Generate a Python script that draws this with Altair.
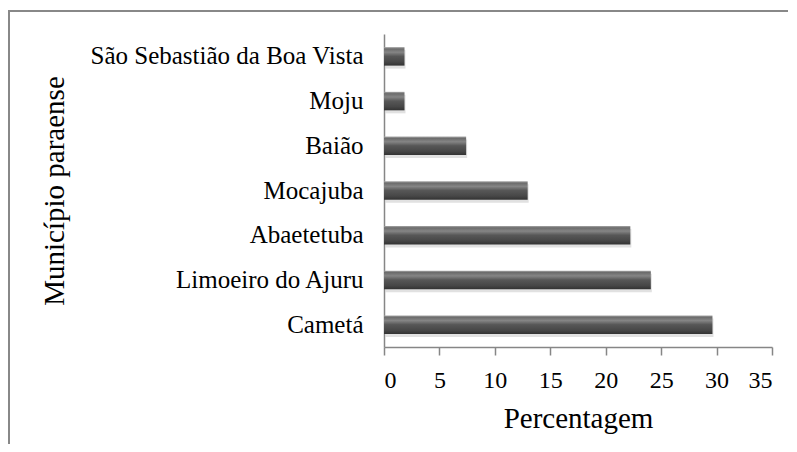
import altair as alt
import pandas as pd

municipios = ["São Sebastião da Boa Vista", "Moju", "Baião", "Mocajuba",
              "Abaetetuba", "Limoeiro do Ajuru", "Cametá"]
percentagens = [1.85, 1.85, 7.41, 12.96, 22.22, 24.07, 29.63]

df = pd.DataFrame({"Município": municipios, "Percentagem": percentagens})

FONT = "Liberation Serif"
AXIS_GRAY = "#868686"

y_enc = alt.Y("Município:N", sort=municipios,
              scale=alt.Scale(paddingInner=0.586, paddingOuter=0.293),
              axis=alt.Axis(title="Município  paraense", ticks=False,
                            domainColor=AXIS_GRAY, domainWidth=1.5,
                            labelFont=FONT, labelFontSize=25, labelColor="#000",
                            labelPadding=21, labelLimit=400,
                            titleFont=FONT, titleFontSize=29, titleFontWeight="normal",
                            titleColor="#000", titleAngle=270, titleX=-321, titleY=156.5,
                            titleAlign="center", titleBaseline="alphabetic"))

x_enc = alt.X("Percentagem:Q",
              scale=alt.Scale(domain=[0, 35], nice=False),
              axis=alt.Axis(title="Percentagem", values=[0, 5, 10, 15, 20, 25, 30, 35],
                            grid=False, tickSize=8, tickColor=AXIS_GRAY, tickWidth=1.5,
                            domainColor=AXIS_GRAY, domainWidth=1.5,
                            labelFont=FONT, labelFontSize=24, labelColor="#000",
                            labelPadding=13,
                            titleFont=FONT, titleFontSize=29, titleFontWeight="normal",
                            titleColor="#000", titleX=194, titleY=80,
                            titleAlign="center", titleBaseline="alphabetic"))

gradient = alt.LinearGradient(
    gradient="linear", x1=0, x2=0, y1=0, y2=1,
    stops=[
        alt.GradientStop(offset=0.0, color="#a8a8a8"),
        alt.GradientStop(offset=0.1, color="#6c6c6c"),
        alt.GradientStop(offset=0.28, color="#858585"),
        alt.GradientStop(offset=0.5, color="#575757"),
        alt.GradientStop(offset=0.8, color="#474747"),
        alt.GradientStop(offset=1.0, color="#333333"),
    ],
)

shadow = alt.Chart(df).mark_bar(color="#d4d4d4", opacity=0.7, yOffset=3, xOffset=1).encode(
    x=x_enc, y=y_enc)

bars = alt.Chart(df).mark_bar(color=gradient).encode(x=x_enc, y=y_enc)

border = alt.Chart(pd.DataFrame({"k": [0]})).mark_rect(
    filled=False, stroke="#888888", strokeWidth=2, clip=False
).encode(x=alt.value(-375), x2=alt.value(700), y=alt.value(-23), y2=alt.value(700))

chart = alt.layer(border, shadow, bars).properties(
    width=388, height=313,
    autosize=alt.AutoSizeParams(type="none"),
    padding={"left": 376, "top": 26, "right": 16, "bottom": 97},
).configure(background="white").configure_view(stroke=None, strokeWidth=0)

chart.save("out.html", embed_options={"renderer": "svg", "actions": False})
